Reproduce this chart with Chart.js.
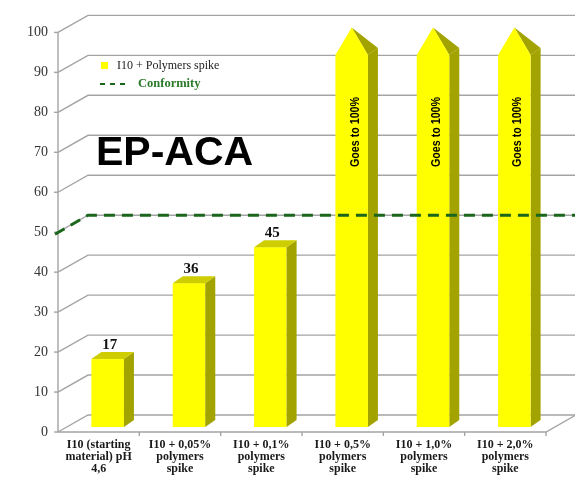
<!DOCTYPE html>
<html><head><meta charset="utf-8">
<script src="https://cdn.jsdelivr.net/npm/chart.js@4/dist/chart.umd.min.js"></script>
<style>html,body{margin:0;padding:0;background:#fff}</style>
</head><body>
<canvas id="c" width="575" height="477" style="width:575px;height:477px;display:block"></canvas>
<script>
// ---- data ----
const categories = [
  ["I10 (starting", "material) pH", "4,6"],
  ["I10 + 0,05%", "polymers", "spike"],
  ["I10 + 0,1%", "polymers", "spike"],
  ["I10 + 0,5%", "polymers", "spike"],
  ["I10 + 1,0%", "polymers", "spike"],
  ["I10 + 2,0%", "polymers", "spike"]
];
const spikeValues = [17, 36, 45, 100, 100, 100];
const valueLabels = ["17", "36", "45", "", "", ""];
const isArrow = [false, false, false, true, true, true];
const arrowLabels = ["", "", "", "Goes to 100%", "Goes to 100%", "Goes to 100%"];
const conformity = [50, 50, 50, 50, 50, 50];
const yMin = 0, yMax = 100, yStep = 10;
const titleText = "EP-ACA";

// ---- styling ----
const FRONT = {dx: -9, dy: 5};
const BACK = {dx: 21, dy: -12};
const B3 = {dx: 10, dy: -7};
const YEL = '#FFFF00', SIDE = '#A3A300', TOP = '#CDCD00';
const GRID = '#a4a4a4';
const GREEN = '#1a661a';

const threeD = {
  id: 'threeD',
  beforeDatasetsDraw(chart) {
    const {ctx, chartArea: ca, scales: {x, y}} = chart;
    ctx.save();
    ctx.strokeStyle = GRID; ctx.lineWidth = 1.4;
    y.ticks.forEach(t => {
      const py = y.getPixelForValue(t.value);
      ctx.beginPath();
      ctx.moveTo(ca.left + FRONT.dx, py + FRONT.dy);
      ctx.lineTo(ca.left + BACK.dx, py + BACK.dy);
      ctx.lineTo(chart.width, py + BACK.dy);
      ctx.stroke();
      ctx.beginPath();
      ctx.moveTo(ca.left + FRONT.dx - 4, py + FRONT.dy);
      ctx.lineTo(ca.left + FRONT.dx, py + FRONT.dy);
      ctx.stroke();
    });
    const y0 = y.getPixelForValue(yMin), y1 = y.getPixelForValue(yMax);
    ctx.beginPath();
    ctx.moveTo(ca.left + FRONT.dx, y1 + FRONT.dy);
    ctx.lineTo(ca.left + FRONT.dx, y0 + FRONT.dy);
    ctx.lineTo(ca.right + FRONT.dx, y0 + FRONT.dy);
    ctx.lineTo(ca.right + BACK.dx, y0 + BACK.dy);
    ctx.stroke();
    const n = categories.length;
    const cw = (ca.right - ca.left) / n;
    for (let i = 1; i <= n; i++) {
      const px = ca.left + FRONT.dx + i * cw;
      ctx.beginPath();
      ctx.moveTo(px, y0 + FRONT.dy);
      ctx.lineTo(px, y0 + FRONT.dy + 4);
      ctx.stroke();
    }
    ctx.restore();
  },
  afterDatasetsDraw(chart) {
    const {ctx, chartArea: ca, scales: {x, y}} = chart;
    const meta = chart.getDatasetMeta(0);
    ctx.save();
    meta.data.forEach((bar, i) => {
      const {x: bx, y: by, base, width} = bar.getProps(['x', 'y', 'base', 'width'], true);
      const xl = bx - width / 2, xr = bx + width / 2;
      if (!isArrow[i]) {
        ctx.fillStyle = YEL;
        ctx.fillRect(xl, by, width, base - by);
        ctx.fillStyle = SIDE;
        ctx.beginPath();
        ctx.moveTo(xr, by); ctx.lineTo(xr + B3.dx, by + B3.dy);
        ctx.lineTo(xr + B3.dx, base + B3.dy); ctx.lineTo(xr, base); ctx.closePath(); ctx.fill();
        ctx.fillStyle = TOP;
        ctx.beginPath();
        ctx.moveTo(xl, by); ctx.lineTo(xl + B3.dx, by + B3.dy);
        ctx.lineTo(xr + B3.dx, by + B3.dy); ctx.lineTo(xr, by); ctx.closePath(); ctx.fill();
      } else {
        const sh = by + width * 0.85;
        ctx.fillStyle = SIDE;
        ctx.beginPath();
        ctx.moveTo(xr, sh); ctx.lineTo(xr + B3.dx, sh + B3.dy);
        ctx.lineTo(xr + B3.dx, base + B3.dy); ctx.lineTo(xr, base); ctx.closePath(); ctx.fill();
        ctx.beginPath();
        ctx.moveTo(bx, by); ctx.lineTo(xr + B3.dx, sh + B3.dy); ctx.lineTo(xr, sh); ctx.closePath(); ctx.fill();
        ctx.fillStyle = YEL;
        ctx.beginPath();
        ctx.moveTo(xl, base); ctx.lineTo(xl, sh); ctx.lineTo(bx, by);
        ctx.lineTo(xr, sh); ctx.lineTo(xr, base); ctx.closePath(); ctx.fill();
      }
      if (valueLabels[i]) {
        ctx.fillStyle = '#111';
        ctx.font = 'bold 15px "Liberation Serif", serif';
        ctx.textAlign = 'center'; ctx.textBaseline = 'alphabetic';
        ctx.fillText(valueLabels[i], bx + 2, by - 10);
      }
      if (arrowLabels[i]) {
        ctx.save();
        ctx.translate(bx + 7, 132);
        ctx.rotate(-Math.PI / 2);
        ctx.font = 'bold 13px "Liberation Sans", sans-serif';
        const w = ctx.measureText(arrowLabels[i]).width;
        ctx.scale(70 / w, 1);
        ctx.fillStyle = '#000';
        ctx.textAlign = 'center'; ctx.textBaseline = 'alphabetic';
        ctx.fillText(arrowLabels[i], 0, 0);
        ctx.restore();
      }
    });
    // conformity line (back wall)
    const cy0 = y.getPixelForValue(conformity[0]);
    const cyN = y.getPixelForValue(conformity[conformity.length - 1]);
    ctx.strokeStyle = GREEN; ctx.lineWidth = 3; ctx.setLineDash([11, 7]);
    ctx.beginPath();
    ctx.moveTo(ca.left + FRONT.dx - 3, cy0 + FRONT.dy + 2);
    ctx.lineTo(ca.left + BACK.dx, cy0 + BACK.dy);
    ctx.lineTo(chart.width, cyN + BACK.dy);
    ctx.stroke();
    ctx.setLineDash([]);
    // legend
    const ds = chart.data.datasets;
    ctx.fillStyle = YEL;
    ctx.fillRect(101, 62, 7, 7);
    ctx.fillStyle = '#222';
    ctx.font = '12px "Liberation Serif", serif';
    ctx.textAlign = 'left'; ctx.textBaseline = 'middle';
    ctx.fillText(ds[0].label, 117, 66);
    ctx.strokeStyle = GREEN; ctx.lineWidth = 2; ctx.setLineDash([5, 5]);
    ctx.beginPath(); ctx.moveTo(100, 84); ctx.lineTo(130, 84); ctx.stroke();
    ctx.setLineDash([]);
    ctx.fillStyle = '#2a7a2a';
    ctx.font = 'bold 12.5px "Liberation Serif", serif';
    ctx.fillText(ds[1].label, 138, 84);
    // title
    ctx.fillStyle = '#000';
    ctx.font = 'bold 41px "Liberation Sans", sans-serif';
    ctx.textBaseline = 'alphabetic';
    ctx.fillText(titleText, 96, 165);
    ctx.restore();
  }
};

new Chart(document.getElementById('c'), {
  type: 'bar',
  data: {
    labels: categories,
    datasets: [
      {label: 'I10 + Polymers spike', data: spikeValues, backgroundColor: 'rgba(0,0,0,0)', borderWidth: 0,
       barPercentage: 0.4, categoryPercentage: 1.0},
      {type: 'line', label: 'Conformity', data: conformity, borderColor: 'rgba(0,0,0,0)', borderWidth: 0, pointRadius: 0}
    ]
  },
  options: {
    responsive: false, animation: false, events: [],
    layout: {padding: {left: 0, top: 23, right: 20, bottom: 0}},
    plugins: {legend: {display: false}, tooltip: {enabled: false}},
    scales: {
      x: {
        grid: {display: false, drawTicks: false}, border: {display: false},
        ticks: {color: '#1a1a1a', font: {family: '"Liberation Serif", serif', size: 12, weight: 'bold', lineHeight: 1.0},
                padding: 12, labelOffset: FRONT.dx, maxRotation: 0, autoSkip: false},
        afterFit(s) { s.height = 50; }
      },
      y: {
        min: yMin, max: yMax,
        grid: {display: false, drawTicks: false}, border: {display: false},
        ticks: {stepSize: yStep, color: '#333', font: {family: '"Liberation Serif", serif', size: 14},
                padding: 19, labelOffset: FRONT.dy},
        afterFit(s) { s.width = 67; }
      }
    }
  },
  plugins: [threeD]
});
</script>
</body></html>
